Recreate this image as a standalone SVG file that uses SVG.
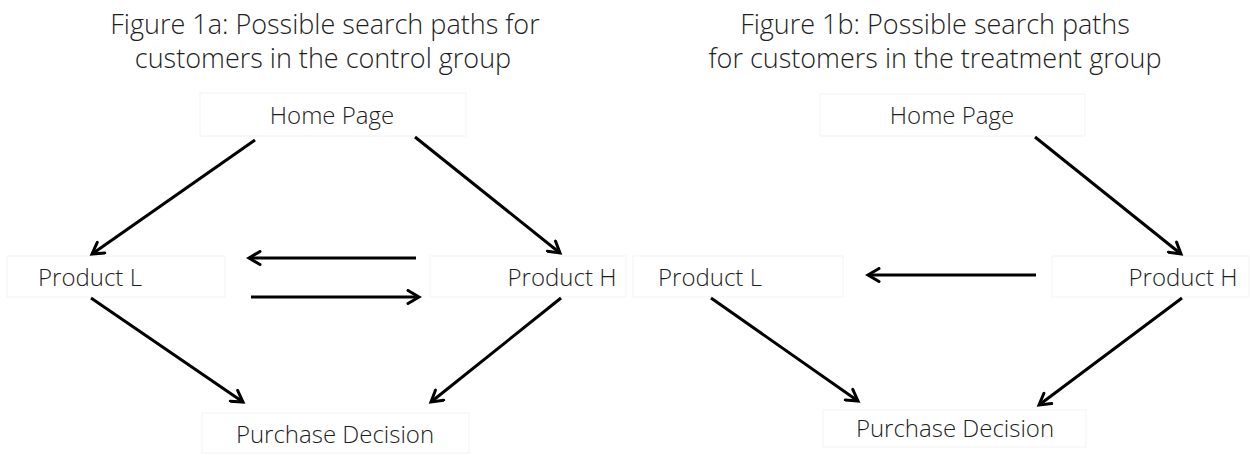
<svg xmlns="http://www.w3.org/2000/svg" width="1250" height="455" viewBox="0 0 1250 455">
<style>
.t{font-family:"Open Sans","Liberation Sans",sans-serif;font-size:24px;font-weight:300;fill:#1e1e1e;text-anchor:middle}
.h{font-size:27px}
.box{fill:none;stroke:#f3f3f3;stroke-width:1}
.c{stroke:#000;stroke-width:3;fill:none;marker-end:url(#ah)}
</style>
<defs>
<marker id="ah" viewBox="0 0 16 16" refX="13" refY="8" markerWidth="16" markerHeight="16" markerUnits="userSpaceOnUse" orient="auto">
<path d="M2,1.5 L13,8 L2,14.5" fill="none" stroke="#000" stroke-width="3" stroke-linecap="round" stroke-linejoin="miter"/>
</marker>
</defs>
<rect width="1250" height="455" fill="#fff"/>
<g id="titles">
<text class="t h" x="325" y="34">Figure 1a: Possible search paths for</text>
<text class="t h" x="323" y="68">customers in the control group</text>
<text class="t h" x="935" y="34">Figure 1b: Possible search paths</text>
<text class="t h" x="935" y="68">for customers in the treatment group</text>
</g>
<g id="a-home"><rect class="box" x="200" y="93" width="266" height="43"/><text class="t" x="332" y="124">Home Page</text></g>
<g id="a-productL"><rect class="box" x="7" y="256" width="218" height="41"/><text class="t" x="90" y="286">Product L</text></g>
<g id="a-productH"><rect class="box" x="430" y="256" width="196" height="41"/><text class="t" x="562" y="286">Product H</text></g>
<g id="a-purchase"><rect class="box" x="202" y="413" width="267" height="40"/><text class="t" x="335" y="443">Purchase Decision</text></g>
<g id="b-home"><rect class="box" x="820" y="94" width="265" height="42"/><text class="t" x="952" y="124">Home Page</text></g>
<g id="b-productL"><rect class="box" x="633" y="256" width="210" height="41"/><text class="t" x="710" y="286">Product L</text></g>
<g id="b-productH"><rect class="box" x="1052" y="256" width="197" height="41"/><text class="t" x="1183" y="286">Product H</text></g>
<g id="b-purchase"><rect class="box" x="823" y="410" width="263" height="37"/><text class="t" x="955" y="437">Purchase Decision</text></g>
<g id="connectors">
<line class="c" x1="255" y1="140" x2="92" y2="254"/>
<line class="c" x1="415" y1="137" x2="560" y2="253"/>
<line class="c" x1="416" y1="258" x2="249" y2="258"/>
<line class="c" x1="251" y1="297" x2="419" y2="297"/>
<line class="c" x1="91" y1="298" x2="243" y2="402"/>
<line class="c" x1="561" y1="298" x2="431" y2="402"/>
<line class="c" x1="1035" y1="137" x2="1181" y2="254"/>
<line class="c" x1="1036" y1="275" x2="868" y2="275"/>
<line class="c" x1="711" y1="298" x2="858" y2="401"/>
<line class="c" x1="1182" y1="298" x2="1039" y2="405"/>
</g>
</svg>
